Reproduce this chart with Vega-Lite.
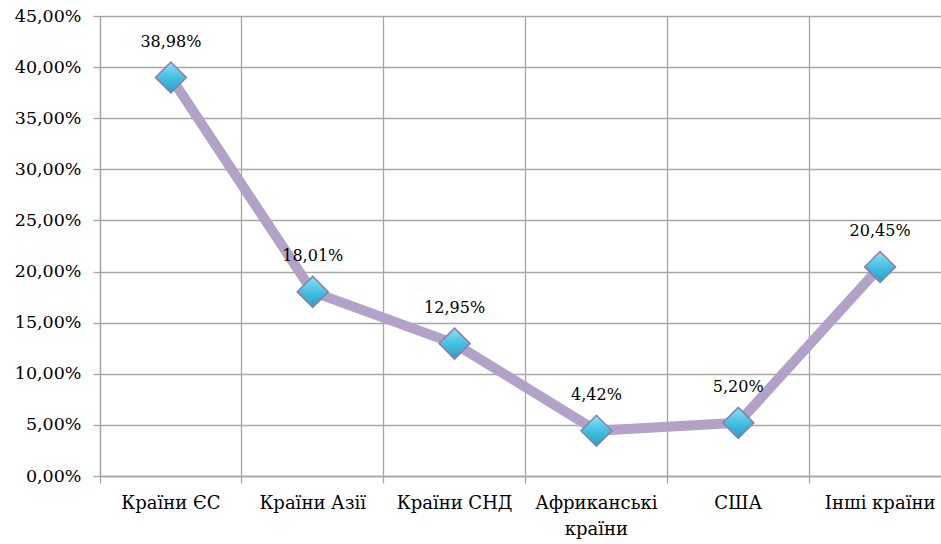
{
  "$schema": "https://vega.github.io/schema/vega-lite/v6.json",
  "width": 851,
  "height": 460,
  "autosize": {"type": "none"},
  "padding": {"left": 100, "top": 16, "right": 0, "bottom": 68},
  "background": "white",
  "config": {
    "view": {"stroke": null},
    "font": "DejaVu Serif"
  },
  "data": {
    "values": [
      {"region": "Країни ЄС", "share": 38.98},
      {"region": "Країни  Азії", "share": 18.01},
      {"region": "Країни СНД", "share": 12.95},
      {"region": "Африканські країни", "share": 4.42},
      {"region": "США", "share": 5.20},
      {"region": "Інші країни", "share": 20.45}
    ]
  },
  "encoding": {
    "x": {
      "field": "region",
      "type": "nominal",
      "sort": null,
      "scale": {"type": "band", "paddingInner": 0, "paddingOuter": 0},
      "axis": {
        "title": null,
        "bandPosition": 0,
        "labelAngle": 0,
        "labelFont": "DejaVu Serif",
        "labelFontSize": 18,
        "labelColor": "#000000",
        "labelPadding": 11,
        "labelLineHeight": 26,
        "labelBaseline": "top",
        "labelExpr": "datum.label == 'Африканські країни' ? ['Африканські', 'країни'] : datum.label",
        "grid": true,
        "gridColor": "#a6a6a6",
        "gridWidth": 1.3,
        "domainColor": "#a6a6a6",
        "domainWidth": 1.3,
        "tickColor": "#a6a6a6",
        "tickWidth": 1.3,
        "tickSize": 7
      }
    },
    "y": {
      "field": "share",
      "type": "quantitative",
      "scale": {"domain": [0, 45], "nice": false},
      "axis": {
        "title": null,
        "values": [0, 5, 10, 15, 20, 25, 30, 35, 40, 45],
        "labelExpr": "replace(format(datum.value, '.2f'), '.', ',') + '%'",
        "labelFont": "DejaVu Serif",
        "labelFontSize": 17.5,
        "labelColor": "#000000",
        "labelPadding": 12,
        "grid": true,
        "gridColor": "#a6a6a6",
        "gridWidth": 1.3,
        "domainColor": "#a6a6a6",
        "domainWidth": 1.3,
        "tickColor": "#a6a6a6",
        "tickWidth": 1.3,
        "tickSize": 7
      }
    }
  },
  "layer": [
    {
      "mark": {"type": "line", "color": "#b3a2c7", "strokeWidth": 10, "strokeJoin": "round", "strokeCap": "butt"}
    },
    {
      "mark": {
        "type": "point",
        "shape": "diamond",
        "size": 960,
        "filled": true,
        "opacity": 1,
        "fill": {
          "gradient": "linear",
          "x1": 0, "y1": 0, "x2": 0, "y2": 1,
          "stops": [
            {"offset": 0, "color": "#8fe0f5"},
            {"offset": 0.5, "color": "#45c0e2"},
            {"offset": 1, "color": "#2a9cc4"}
          ]
        },
        "stroke": "#8d7ea8",
        "strokeWidth": 1.5
      }
    },
    {
      "mark": {
        "type": "text",
        "dy": -36,
        "baseline": "middle",
        "align": "center",
        "font": "DejaVu Serif",
        "fontSize": 16,
        "color": "#000000",
        "text": {"expr": "replace(format(datum.share, '.2f'), '.', ',') + '%'"}
      }
    }
  ]
}
